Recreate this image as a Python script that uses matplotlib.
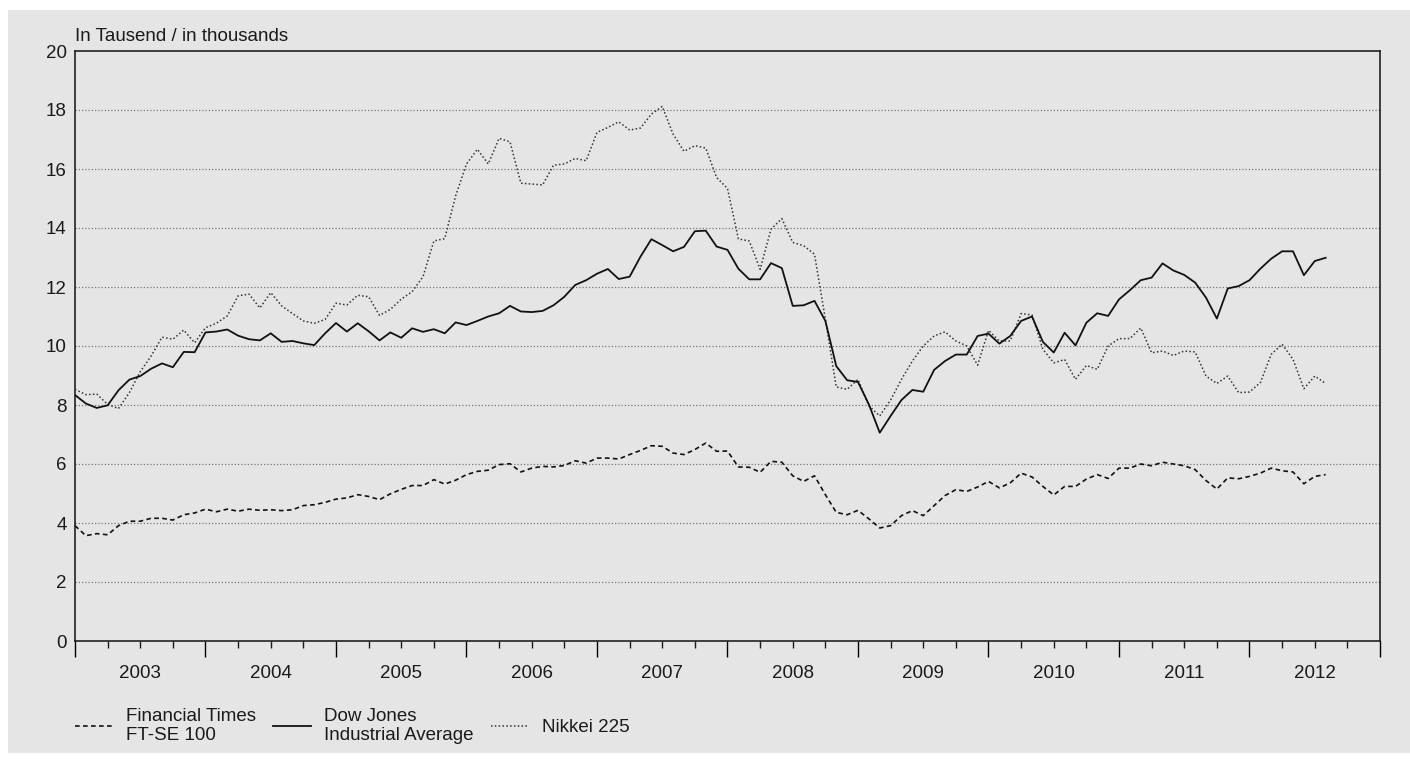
import numpy as np
import pandas as pd
import matplotlib
matplotlib.use("Agg")
import matplotlib.pyplot as plt
from matplotlib.patches import Rectangle
from matplotlib.lines import Line2D

# --- Datos mensuales (Tausend), enero 2003 - agosto 2012 ---
ftse = [3.91, 3.57, 3.64, 3.60, 3.91, 4.06, 4.06, 4.16, 4.16, 4.10, 4.28, 4.34,
        4.47, 4.38, 4.47, 4.40, 4.47, 4.43, 4.45, 4.42, 4.45, 4.59, 4.62, 4.70,
        4.81, 4.85, 4.96, 4.90, 4.79, 4.99, 5.14, 5.27,
        5.27, 5.47, 5.32, 5.45, 5.64, 5.75, 5.79, 5.98, 6.01, 5.73, 5.86, 5.92,
        5.90, 5.95, 6.11, 6.03, 6.20, 6.20, 6.17, 6.32, 6.46, 6.62, 6.60, 6.37,
        6.32, 6.49, 6.71, 6.43, 6.44, 5.90,
        5.89, 5.72, 6.09, 6.06, 5.60, 5.41, 5.60, 4.96, 4.36, 4.28, 4.43, 4.14,
        3.83, 3.91, 4.25, 4.42, 4.25, 4.59, 4.93, 5.13, 5.07, 5.22, 5.41, 5.19,
        5.36, 5.69, 5.56, 5.24, 4.95, 5.24,
        5.24, 5.49, 5.64, 5.51, 5.86, 5.86, 6.00, 5.94, 6.06, 6.00, 5.94, 5.81,
        5.44, 5.15, 5.53, 5.50, 5.58, 5.69, 5.86, 5.77, 5.73, 5.33, 5.58, 5.64]

dow = [8.34, 8.05, 7.90, 7.99, 8.50, 8.86, 8.98, 9.23, 9.41, 9.28, 9.80, 9.79,
       10.46, 10.49, 10.56, 10.35, 10.23, 10.19, 10.43, 10.14, 10.17, 10.09, 10.03, 10.43,
       10.78, 10.49, 10.77, 10.50, 10.19, 10.46, 10.28, 10.60,
       10.48, 10.57, 10.43, 10.80, 10.71, 10.85, 11.00, 11.11, 11.36, 11.17, 11.15, 11.19,
       11.38, 11.67, 12.07, 12.23, 12.45, 12.61, 12.27, 12.35, 13.03, 13.62, 13.42, 13.21,
       13.36, 13.89, 13.91, 13.37, 13.26, 12.62,
       12.26, 12.26, 12.81, 12.64, 11.36, 11.38, 11.53, 10.85, 9.32, 8.84, 8.78, 8.02,
       7.06, 7.63, 8.17, 8.51, 8.45, 9.19, 9.49, 9.71, 9.71, 10.34, 10.42, 10.08,
       10.34, 10.85, 11.00, 10.14, 9.78, 10.45,
       10.02, 10.79, 11.11, 11.02, 11.58, 11.89, 12.23, 12.32, 12.80, 12.56, 12.41, 12.15,
       11.64, 10.93, 11.95, 12.03, 12.23, 12.62, 12.96, 13.21, 13.21, 12.40, 12.88, 12.99]

nikkei = [8.53, 8.35, 8.37, 8.02, 7.88, 8.42, 9.13, 9.66, 10.30, 10.23, 10.54, 10.11,
          10.62, 10.77, 11.02, 11.70, 11.76, 11.29, 11.81, 11.36, 11.10, 10.85, 10.77, 10.90,
          11.45, 11.39, 11.72, 11.67, 11.04, 11.24, 11.59, 11.84,
          12.35, 13.56, 13.64, 15.09, 16.17, 16.67, 16.17, 17.04, 16.92, 15.52, 15.49, 15.46,
          16.13, 16.17, 16.36, 16.28, 17.24, 17.41, 17.60, 17.32, 17.39, 17.86, 18.12, 17.18,
          16.60, 16.79, 16.71, 15.71, 15.34, 13.63,
          13.56, 12.60, 13.96, 14.32, 13.51, 13.40, 13.11, 10.91, 8.61, 8.53, 8.87, 7.97,
          7.63, 8.17, 8.87, 9.49, 10.00, 10.34, 10.48, 10.17, 10.00, 9.35, 10.53, 10.17,
          10.17, 11.10, 11.05, 9.89, 9.43, 9.54,
          8.87, 9.34, 9.21, 10.00, 10.25, 10.25, 10.61, 9.77, 9.83, 9.68, 9.83, 9.80,
          8.98, 8.73, 8.98, 8.42, 8.44, 8.76, 9.72, 10.06, 9.55, 8.55, 8.98, 8.73]

years = [2003, 2004, 2005, 2006, 2007, 2008, 2009, 2010, 2011, 2012]
labels = ["Financial Times\nFT-SE 100", "Dow Jones\nIndustrial Average", "Nikkei 225"]
ylabel_text = "In Tausend / in thousands"

# fechas -> año decimal
fechas = pd.date_range("2003-01-01", periods=len(dow), freq="MS")
x = fechas.year + (fechas.month - 1) / 12.0

FS = 13.5
plt.rcParams["font.family"] = ["Liberation Sans", "DejaVu Sans"]
plt.rcParams["font.size"] = FS

GRIS = "#e5e5e5"
TXT = "#1a1a1a"
fig = plt.figure(figsize=(14.10, 7.63), dpi=100)
fig.patch.set_facecolor("white")
fig.patches.append(Rectangle((8 / 1410, 10 / 763), 1 - 8 / 1410, 1 - 20 / 763,
                             transform=fig.transFigure, facecolor=GRIS,
                             edgecolor="none", zorder=-10))

ax = fig.add_axes([75 / 1410, 122 / 763, 1305 / 1410, 590 / 763])
ax.set_facecolor(GRIS)

# lineas de cuadricula punteadas
for yv in range(2, 20, 2):
    ax.axhline(yv, color="#777777", lw=0.9, ls=(0, (1, 1.6)), zorder=1)

ax.plot(x, ftse, color="#111111", lw=1.2, ls=(0, (2.8, 2.0)), zorder=3)
ax.plot(x, dow, color="#111111", lw=1.3, ls="-", zorder=4)
ax.plot(x, nikkei, color="#333333", lw=1.1, ls=(0, (1, 1.5)), zorder=3)

ax.set_xlim(years[0], years[-1] + 1)
ax.set_ylim(0, 20)
ax.set_yticks(range(0, 21, 2))
ax.tick_params(axis="y", length=0, pad=6, labelsize=FS, colors=TXT)

# ticks: años (largos) y trimestres (cortos); etiqueta a mitad de año
ax.set_xticks([y for y in years] + [years[-1] + 1])
ax.set_xticklabels([])
minor_pos = [y + q / 4 for y in years for q in (1, 2, 3)]
minor_lab = [str(y) if q == 2 else "" for y in years for q in (1, 2, 3)]
ax.set_xticks(minor_pos, minor=True)
ax.set_xticklabels(minor_lab, minor=True)
ax.tick_params(axis="x", which="major", direction="out", length=11.5, width=1)
ax.tick_params(axis="x", which="minor", direction="out", length=5, width=1,
               pad=12, labelsize=FS, colors=TXT)

for s in ax.spines.values():
    s.set_linewidth(1.1)
    s.set_color("#111111")

ax.text(0, 1.01, ylabel_text, transform=ax.transAxes, ha="left", va="bottom",
        fontsize=FS, color=TXT)

handles = [Line2D([], [], color="#111111", lw=1.2, ls=(0, (2.8, 2.0))),
           Line2D([], [], color="#111111", lw=1.3, ls="-"),
           Line2D([], [], color="#333333", lw=1.1, ls=(0, (1, 1.5)))]
leg = fig.legend(handles, labels, loc="upper left",
                 bbox_to_anchor=(75 / 1410, 1 - 708 / 763),
                 ncol=3, frameon=False, borderpad=0, borderaxespad=0,
                 handlelength=2.0, handletextpad=0.7, columnspacing=0.95,
                 fontsize=FS, labelspacing=0.2)
for t in leg.get_texts():
    t.set_linespacing(1.15)
    t.set_color(TXT)

fig.savefig("out.png", dpi=100, facecolor=fig.get_facecolor())
